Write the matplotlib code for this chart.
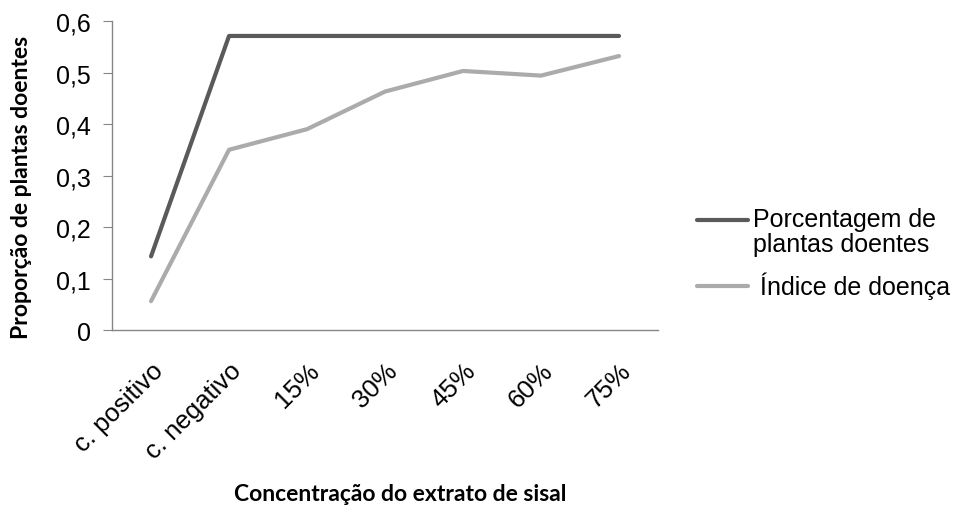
import matplotlib.pyplot as plt

categorias = ["c. positivo", "c. negativo", "15%", "30%", "45%", "60%", "75%"]
porcentagem = [0.143, 0.571, 0.571, 0.571, 0.571, 0.571, 0.571]
indice = [0.056, 0.350, 0.390, 0.463, 0.503, 0.494, 0.532]
yticks = [0, 0.1, 0.2, 0.3, 0.4, 0.5, 0.6]
ylabels = ["0", "0,1", "0,2", "0,3", "0,4", "0,5", "0,6"]

plt.rcParams['font.family'] = ['Liberation Sans', 'DejaVu Sans']

fig = plt.figure(figsize=(9.56, 5.06), dpi=100)
ax = fig.add_axes([0.1172, 0.3458, 0.5711, 0.6107])

x = range(len(categorias))
ax.plot(x, porcentagem, color="#5a5a5a", lw=3, solid_capstyle="round",
        label="Porcentagem de\nplantas doentes")
ax.plot(x, indice, color="#ababab", lw=3, solid_capstyle="round",
        label=" Índice de doença")

ax.set_xlim(-0.5, len(categorias) - 0.5)
ax.set_ylim(0, 0.6)
ax.set_yticks(yticks)
ax.set_yticklabels(ylabels, fontsize=18)
ax.set_xticks(list(x))
ax.set_xticklabels(categorias, fontsize=18.5, rotation=45, ha="right",
                   rotation_mode="anchor")
ax.tick_params(axis="x", length=0, pad=20)
ax.tick_params(axis="y", length=6.5, color="#868686", pad=9)

for s in ["top", "right"]:
    ax.spines[s].set_visible(False)
for s in ["left", "bottom"]:
    ax.spines[s].set_color("#868686")
    ax.spines[s].set_linewidth(1)

fig.text(22 / 956, 1 - 187 / 506, "Proporção de plantas doentes", fontsize=16.5,
         fontweight="bold", family=["Lato", "DejaVu Sans"], rotation=90,
         ha="center", va="center")
fig.text(400 / 956, 1 - 501 / 506, "Concentração do extrato de sisal",
         fontsize=16.5, fontweight="bold", family=["Lato", "DejaVu Sans"],
         ha="center", va="baseline")

leg = fig.legend(loc="center left", bbox_to_anchor=(697 / 956, 1 - 254 / 506),
                 frameon=False, fontsize=18, handlelength=2.04,
                 handletextpad=0.2, labelspacing=0.62, borderpad=0,
                 borderaxespad=0)
for t in leg.get_texts():
    t.set_linespacing(1.1)
# align the first handle with the first text line, as in the original
h0 = leg.legend_handles[0]
h0.set_ydata([y + 8.6 for y in h0.get_ydata()])

fig.savefig("out.png", dpi=100)
